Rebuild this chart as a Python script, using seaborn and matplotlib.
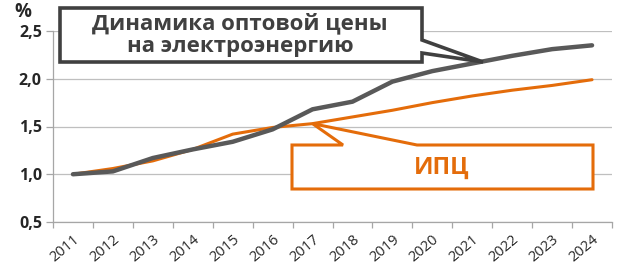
import matplotlib
matplotlib.use("Agg")
import matplotlib.pyplot as plt
import seaborn as sns
import pandas as pd
import numpy as np
from matplotlib.patches import Polygon

years = ["2011", "2012", "2013", "2014", "2015", "2016", "2017",
         "2018", "2019", "2020", "2021", "2022", "2023", "2024"]
wholesale = [1.00, 1.03, 1.17, 1.26, 1.34, 1.47, 1.68,
             1.76, 1.97, 2.08, 2.16, 2.24, 2.31, 2.35]
cpi = [1.00, 1.06, 1.14, 1.26, 1.42, 1.49, 1.53,
       1.60, 1.67, 1.75, 1.82, 1.88, 1.93, 1.99]
yticks = [0.5, 1.0, 1.5, 2.0, 2.5]
ytick_labels = ["0,5", "1,0", "1,5", "2,0", "2,5"]
label_wholesale = "Динамика оптовой цены\nна электроэнергию"
label_cpi = "ИПЦ"

GREY = "#595959"
ORANGE = "#E46C0A"

sns.set_theme(style="white")
plt.rcParams['font.family'] = ['Open Sans', 'DejaVu Sans']

df = pd.DataFrame({
    "x": list(range(len(years))) * 2,
    "value": cpi + wholesale,
    "series": ["cpi"] * len(years) + ["wholesale"] * len(years),
})

fig = plt.figure(figsize=(6.24, 2.64), dpi=100)
ax = fig.add_axes([53 / 624, 1 - 222 / 264, (612 - 53) / 624, (222 - 31) / 264])

sns.lineplot(data=df[df.series == "cpi"], x="x", y="value", color=ORANGE,
             linewidth=2.2, ax=ax, legend=False)
sns.lineplot(data=df[df.series == "wholesale"], x="x", y="value", color=GREY,
             linewidth=3.2, ax=ax, legend=False)

ax.set_xlim(-0.5, len(years) - 0.5)
ax.set_ylim(0.5, 2.5)
ax.set_xlabel("")
ax.set_ylabel("")

ax.set_yticks(yticks)
ax.set_yticklabels(ytick_labels, fontsize=11.5, fontweight="bold", color="#262626")
ax.yaxis.grid(True, color="#BFBFBF", linewidth=0.9)
ax.set_axisbelow(True)

ax.set_xticks(range(len(years)))
ax.set_xticklabels(years, rotation=40, ha="right", rotation_mode="anchor",
                   fontsize=10.5, color="#262626")
ax.set_xticks(np.arange(-0.5, len(years)), minor=True)
ax.tick_params(axis="x", which="major", length=0, pad=7)
ax.tick_params(axis="x", which="minor", length=4, color="#A6A6A6", width=0.9,
               direction="out", bottom=True)
ax.tick_params(axis="y", length=5, color="#A6A6A6", width=0.9, direction="out",
               left=True, pad=3)

for side in ["top", "right"]:
    ax.spines[side].set_visible(False)
for side in ["left", "bottom"]:
    ax.spines[side].set_color("#A6A6A6")
    ax.spines[side].set_linewidth(0.9)

fig.text(23 / 624, 1 - 12 / 264, "%", fontsize=13.5, fontweight="bold",
         color="#262626", ha="center", va="center")

# helper: pixel -> data
def px(xp, yp):
    return ((xp - 53) / ((612 - 53) / len(years)) - 0.5,
            0.5 + (222 - yp) / ((222 - 31) / 2.0))

# Grey callout
tip_g = px(483, 62)
grey_poly = [px(60, 8), px(422, 8), px(422, 40), tip_g, px(422, 53),
             px(422, 62), px(60, 62)]
ax.add_patch(Polygon(grey_poly, closed=True, facecolor="white", edgecolor="#404040",
                     linewidth=2.6, clip_on=False, zorder=5, joinstyle="miter"))
cx, cy = px(240, 35)
ax.text(cx, cy, label_wholesale, ha="center", va="center", fontsize=16,
        fontweight="bold", color="#404040", linespacing=1.08, zorder=6,
        clip_on=False)

# Orange callout
tip_o = (6, cpi[6])
orange_poly = [px(292, 145), px(343, 145), tip_o, px(417, 145), px(593, 145),
               px(593, 189), px(292, 189)]
ax.add_patch(Polygon(orange_poly, closed=True, facecolor="white", edgecolor=ORANGE,
                     linewidth=2.2, clip_on=False, zorder=5, joinstyle="miter"))
ox, oy = px(442, 168)
ax.text(ox, oy, label_cpi, ha="center", va="center", fontsize=17,
        fontweight="bold", color=ORANGE, zorder=6)

fig.savefig("out.png", dpi=100)
